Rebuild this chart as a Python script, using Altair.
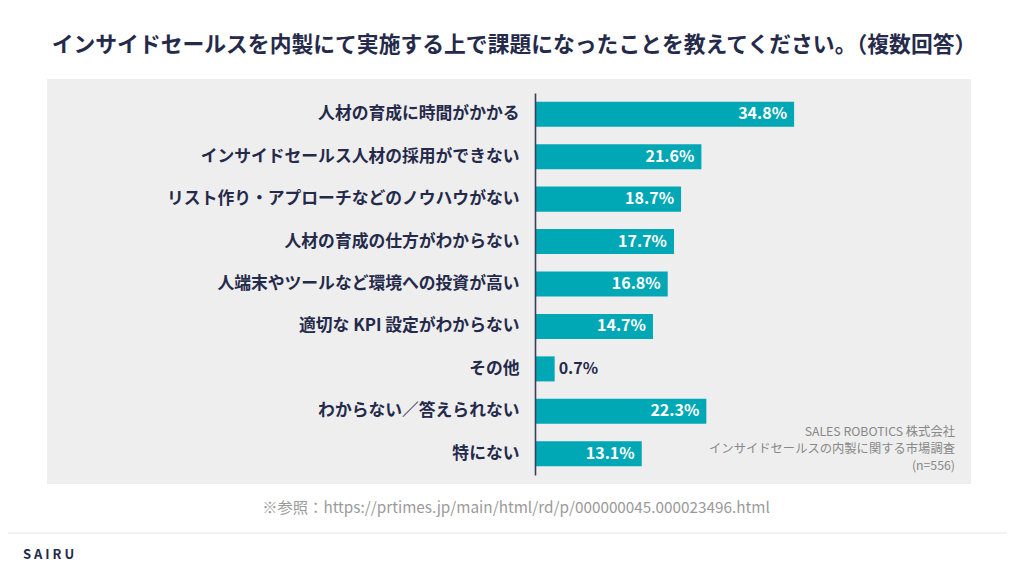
import altair as alt
import pandas as pd

categories = [
    "人材の育成に時間がかかる",
    "インサイドセールス人材の採用ができない",
    "リスト作り・アプローチなどのノウハウがない",
    "人材の育成の仕方がわからない",
    "人端末やツールなど環境への投資が高い",
    "適切な KPI 設定がわからない",
    "その他",
    "わからない／答えられない",
    "特にない",
]
values = [34.8, 21.6, 18.7, 17.7, 16.8, 14.7, 0.7, 22.3, 13.1]
value_labels = ["34.8%", "21.6%", "18.7%", "17.7%", "16.8%", "14.7%", "0.7%", "22.3%", "13.1%"]

title_text = "インサイドセールスを内製にて実施する上で課題になったことを教えてください。（複数回答）"
source_lines = ["SALES ROBOTICS 株式会社", "インサイドセールスの内製に関する市場調査", "(n=556)"]
footer_text = "※参照：https://prtimes.jp/main/html/rd/p/000000045.000023496.html"
brand_text = "S A I R U"

FONT = "Noto Sans CJK JP"
NAVY = "#252a4a"
TEAL = "#00a7b5"

df = pd.DataFrame({"cat": categories, "val": values, "lab": value_labels})
df["inside"] = df["val"] >= 5
one = pd.DataFrame({"k": [0]})

X_MIN = -2.1
xscale = alt.Scale(domain=[X_MIN, 58], nice=False, zero=False)
yaxis = alt.Axis(
    title=None, ticks=False, domain=True, domainColor="#3b3f5e", domainWidth=1.6,
    labelFont=FONT, labelFontSize=16.8, labelFontWeight="bold", labelColor=NAVY,
    labelPadding=16, labelLimit=400, zindex=1,
)
yscale = alt.Scale(paddingInner=0.41, paddingOuter=0.205)


def yenc():
    return alt.Y("cat:N", sort=categories, scale=yscale, axis=yaxis)


panel = alt.Chart(one).mark_rect(color="#eeeeee").encode(
    x=alt.value(-488), x2=alt.value(436), y=alt.value(-14), y2=alt.value(391)
)

sep = alt.Chart(one).mark_rule(color="#eeeeee", strokeWidth=1.5).encode(
    x=alt.value(-535), x2=alt.value(489), y=alt.value(440)
)

bars = alt.Chart(df).mark_bar(color=TEAL).encode(
    x=alt.X("val:Q", scale=xscale, axis=None),
    x2=alt.datum(X_MIN),
    y=yenc(),
)

in_labels = alt.Chart(df).transform_filter("datum.inside").mark_text(
    align="right", baseline="middle", dx=-7, font=FONT, fontSize=16,
    fontWeight="bold", color="white",
).encode(x=alt.X("val:Q", scale=xscale, axis=None), y=yenc(), text="lab:N")

out_labels = alt.Chart(df).transform_filter("!datum.inside").mark_text(
    align="left", baseline="middle", dx=4, font=FONT, fontSize=16,
    fontWeight="bold", color=NAVY,
).encode(x=alt.X("val:Q", scale=xscale, axis=None), y=yenc(), text="lab:N")

title = alt.Chart(one).mark_text(
    align="center", baseline="middle", font=FONT, fontSize=21.8, fontWeight="bold", color=NAVY,
).encode(x=alt.value(-21), y=alt.value(-48), text=alt.value(title_text))

source_layers = []
for i, line in enumerate(source_lines):
    source_layers.append(
        alt.Chart(one).mark_text(
            align="right", baseline="middle", font=FONT, fontSize=12.3, color="#888888",
        ).encode(x=alt.value(420), y=alt.value(339 + 17 * i), text=alt.value(line))
    )

footer = alt.Chart(one).mark_text(
    align="center", baseline="middle", font=FONT, fontSize=15.3, color="#9a9a9a",
).encode(x=alt.value(-19), y=alt.value(415), text=alt.value(footer_text))

brand = alt.Chart(one).mark_text(
    align="left", baseline="middle", font=FONT, fontSize=13, fontWeight="bold",
    color=NAVY,
).encode(x=alt.value(-512), y=alt.value(462), text=alt.value(brand_text))

chart = alt.layer(panel, sep, bars, in_labels, out_labels, title, *source_layers, footer, brand).properties(
    width=422, height=382,
    autosize=alt.AutoSizeParams(type="none"),
    padding={"left": 527, "top": 85, "right": 50, "bottom": 88},
    background="white",
).configure_view(stroke=None)

chart.save("out.html", embed_options={"renderer": "svg", "actions": False})
